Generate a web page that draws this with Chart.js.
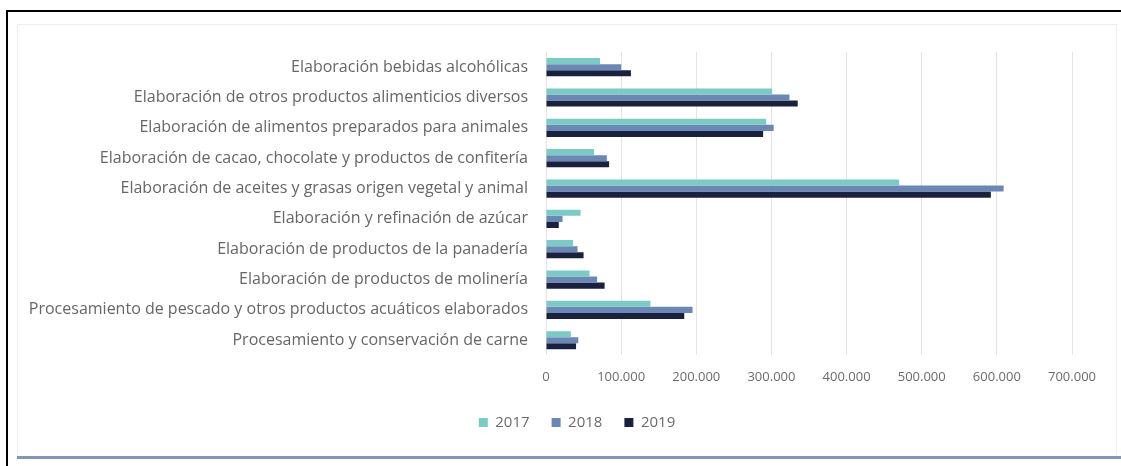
<!DOCTYPE html>
<html>
<head>
<meta charset="utf-8">
<script src="https://cdn.jsdelivr.net/npm/chart.js@4/dist/chart.umd.min.js"></script>
<style>
  body { margin: 0; background: #fff; }
  .frame { position: absolute; left: 6px; top: 10px; width: 1121px; height: 466px;
           border-top: 2px solid #000; border-left: 2px solid #000; box-sizing: border-box; }
  .panel { position: absolute; left: 17px; top: 24px; width: 1100px; height: 435px;
           border-top: 1px solid #eeeeee; border-left: 1px solid #eeeeee; border-right: 1px solid #eeeeee;
           box-sizing: border-box; }
  .rule { position: absolute; left: 17px; top: 456px; width: 1104px; height: 3px; background: #8396b6; }
  #wrap { position: absolute; left: 0; top: 0; width: 1121px; height: 466px; }
</style>
</head>
<body>
<div class="frame"></div>
<div class="panel"></div>
<div class="rule"></div>
<div id="wrap"><canvas id="chart"></canvas></div>
<script>
  // Data
  const categories = [
    'Elaboración bebidas alcohólicas',
    'Elaboración de otros productos alimenticios diversos',
    'Elaboración de alimentos preparados para animales',
    'Elaboración de cacao, chocolate y productos de confitería',
    'Elaboración de aceites y grasas origen vegetal y animal',
    'Elaboración y refinación de azúcar',
    'Elaboración de productos de la panadería',
    'Elaboración de productos de molinería',
    'Procesamiento de pescado y otros productos acuáticos elaborados',
    'Procesamiento y conservación de carne'
  ];
  const years = ['2017', '2018', '2019'];
  const values2017 = [72000, 301000, 293000, 64000, 470000, 46000, 36000, 58000, 139000, 33000];
  const values2018 = [100000, 324000, 303000, 81000, 609000, 22000, 42000, 68000, 195000, 43000];
  const values2019 = [113000, 335000, 289000, 84000, 592000, 17000, 50000, 78000, 184000, 40000];
  const colors = ['#7cc9c6', '#6b87b4', '#19213f'];

  const fmt = v => String(v).replace(/\B(?=(\d{3})+(?!\d))/g, '.');

  // legend sits a bit right of the canvas center in the original
  const shiftLegend = {
    id: 'shiftLegend',
    afterLayout(chart) {
      const lg = chart.legend;
      lg.left += 41;
      lg.right += 41;
      lg.top -= 6;
      lg.bottom -= 6;
    }
  };

  const ctx = document.getElementById('chart').getContext('2d');
  new Chart(ctx, {
    type: 'bar',
    data: {
      labels: categories,
      datasets: [values2017, values2018, values2019].map((vals, i) => ({
        label: years[i],
        data: vals,
        backgroundColor: colors[i],
        categoryPercentage: 0.6,
        barPercentage: 1.0
      }))
    },
    options: {
      indexAxis: 'y',
      responsive: true,
      maintainAspectRatio: false,
      animation: false,
      layout: { padding: { left: 0, right: 49, top: 52, bottom: 20 } },
      plugins: {
        tooltip: { enabled: false },
        legend: {
          position: 'bottom',
          labels: {
            boxWidth: 9,
            boxHeight: 9,
            padding: 22,
            color: '#6b6b6b',
            font: { family: 'Open Sans', size: 15 }
          }
        }
      },
      scales: {
        x: {
          min: 0,
          max: 700000,
          ticks: {
            stepSize: 100000,
            color: '#6b6b6b',
            padding: 14,
            font: { family: 'Open Sans', size: 13 },
            callback: v => fmt(v)
          },
          grid: { color: '#e4e4e4', drawTicks: false },
          border: { display: false }
        },
        y: {
          afterFit: axis => { axis.width = 546; },
          ticks: {
            color: '#666666',
            padding: 18,
            font: { family: 'Open Sans', size: 16 }
          },
          grid: { display: false, drawTicks: false },
          border: { display: false }
        }
      }
    },
    plugins: [shiftLegend]
  });
</script>
</body>
</html>
